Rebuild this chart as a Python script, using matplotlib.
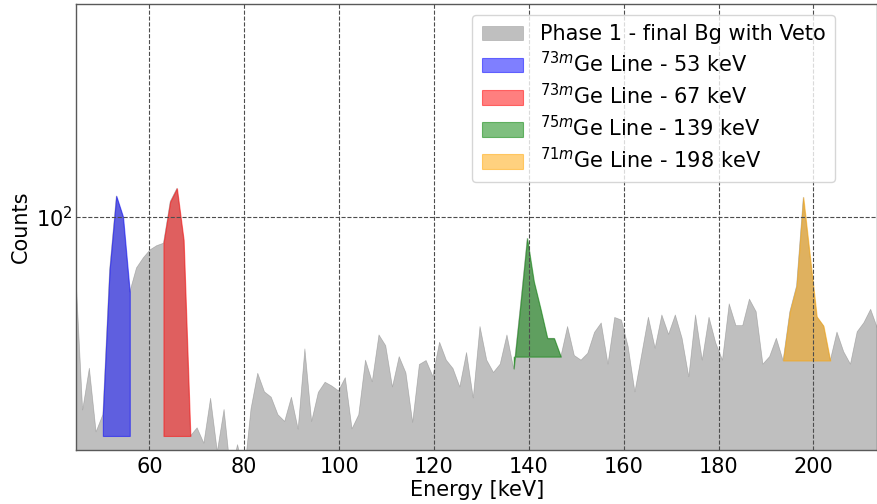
import numpy as np
import matplotlib
matplotlib.use("Agg")
import matplotlib.pyplot as plt
from matplotlib.ticker import NullFormatter

# Histogram binning (bin centres in keV)
bin_first = 44.5
bin_width = 1.42

# Phase 1 background spectrum after veto, counts per bin
counts = [
    63.6, 22.7, 31.3, 19.2, 21.9, 66.5, 117.5, 100.2, 56.2, 67.6,
    73.0, 77.6, 80.2, 81.7, 112.5, 124.6, 83.8, 18.6, 19.8, 17.6,
    24.85, 16.5, 22.8, 13.9, 17.4, 13.9, 22.9, 30.1, 26.1, 25.05,
    21.9, 20.8, 25.05, 19.6, 36.3, 20.8, 26.0, 28.1, 27.3, 26.3,
    29.1, 19.65, 21.9, 33.3, 28.2, 40.4, 37.2, 27.1, 34.2, 30.2,
    20.65, 32.2, 33.2, 29.4, 38.2, 33.3, 31.2, 27.1, 35.3, 24.9,
    43.1, 33.3, 30.3, 32.3, 40.4, 31.2, 50.9, 84.9, 60.9, 49.3,
    39.4, 39.4, 34.2, 43.1, 34.5, 33.3, 35.1, 41.2, 44.3, 32.3,
    46.2, 45.3, 36.9, 26.1, 34.7, 46.3, 36.5, 47.1, 40.6, 47.1,
    39.4, 29.3, 47.1, 33.3, 46.3, 38.0, 33.3, 51.3, 43.4, 43.4,
    53.2, 48.3, 32.3, 34.2, 39.4, 33.2, 48.3, 58.9, 116.3, 73.5,
    46.5, 43.3, 33.2, 41.3, 35.5, 32.3, 41.4, 44.4, 49.2, 42.6,
]

background_label = "Phase 1 - final Bg with Veto"

# Metastable germanium lines: energy window (keV) and fill baseline
line_labels = [
    r"$^{73m}$Ge Line - 53 keV",
    r"$^{73m}$Ge Line - 67 keV",
    r"$^{75m}$Ge Line - 139 keV",
    r"$^{71m}$Ge Line - 198 keV",
]
line_windows = [(50.0, 56.0), (62.5, 69.0), (136.5, 147.0), (193.5, 204.0)]
line_bases = [18.6, 18.6, 34.2, 33.2]
line_colors = ["blue", "red", "green", "orange"]

x_ticks = [60, 80, 100, 120, 140, 160, 180, 200]
y_limits = (16.7, 513.0)

counts = np.array(counts)
energy = bin_first + bin_width * np.arange(len(counts))

W, H = 877, 504
fig = plt.figure(figsize=(W / 100, H / 100), dpi=100)
ax = fig.add_axes([75.9 / W, 54 / H, 801.5 / W, 446 / H])

ax.fill_between(energy, counts, 1.0, color="gray", alpha=0.5,
                linewidth=0.5, label=background_label)
for lab, (lo, hi), base, col in zip(line_labels, line_windows,
                                    line_bases, line_colors):
    sel = (energy >= lo) & (energy <= hi)
    ax.fill_between(energy[sel], base, counts[sel], color=col, alpha=0.5,
                    linewidth=0.8, label=lab)

ax.set_yscale("log")
ax.set_xlim(energy[0], energy[-1])
ax.set_ylim(*y_limits)
ax.set_xticks(x_ticks)
ax.yaxis.set_minor_formatter(NullFormatter())

ax.grid(True, which="major", linestyle="--", color="0.3", linewidth=0.8)
ax.set_axisbelow(False)
ax.tick_params(which="both", length=0, labelsize=15)
ax.tick_params(axis="x", pad=5)
ax.tick_params(axis="y", pad=2)
for sp in ax.spines.values():
    sp.set_color("0.35")
    sp.set_linewidth(1.0)

ax.set_xlabel("Energy [keV]", fontsize=15, labelpad=2)
ax.set_ylabel("Counts", fontsize=15, labelpad=4)

ax.legend(loc="upper right", bbox_to_anchor=(0.9471, 0.9753),
          borderaxespad=0, fontsize=15, labelspacing=0.33, borderpad=0.45)

fig.savefig("out.png", dpi=100)
